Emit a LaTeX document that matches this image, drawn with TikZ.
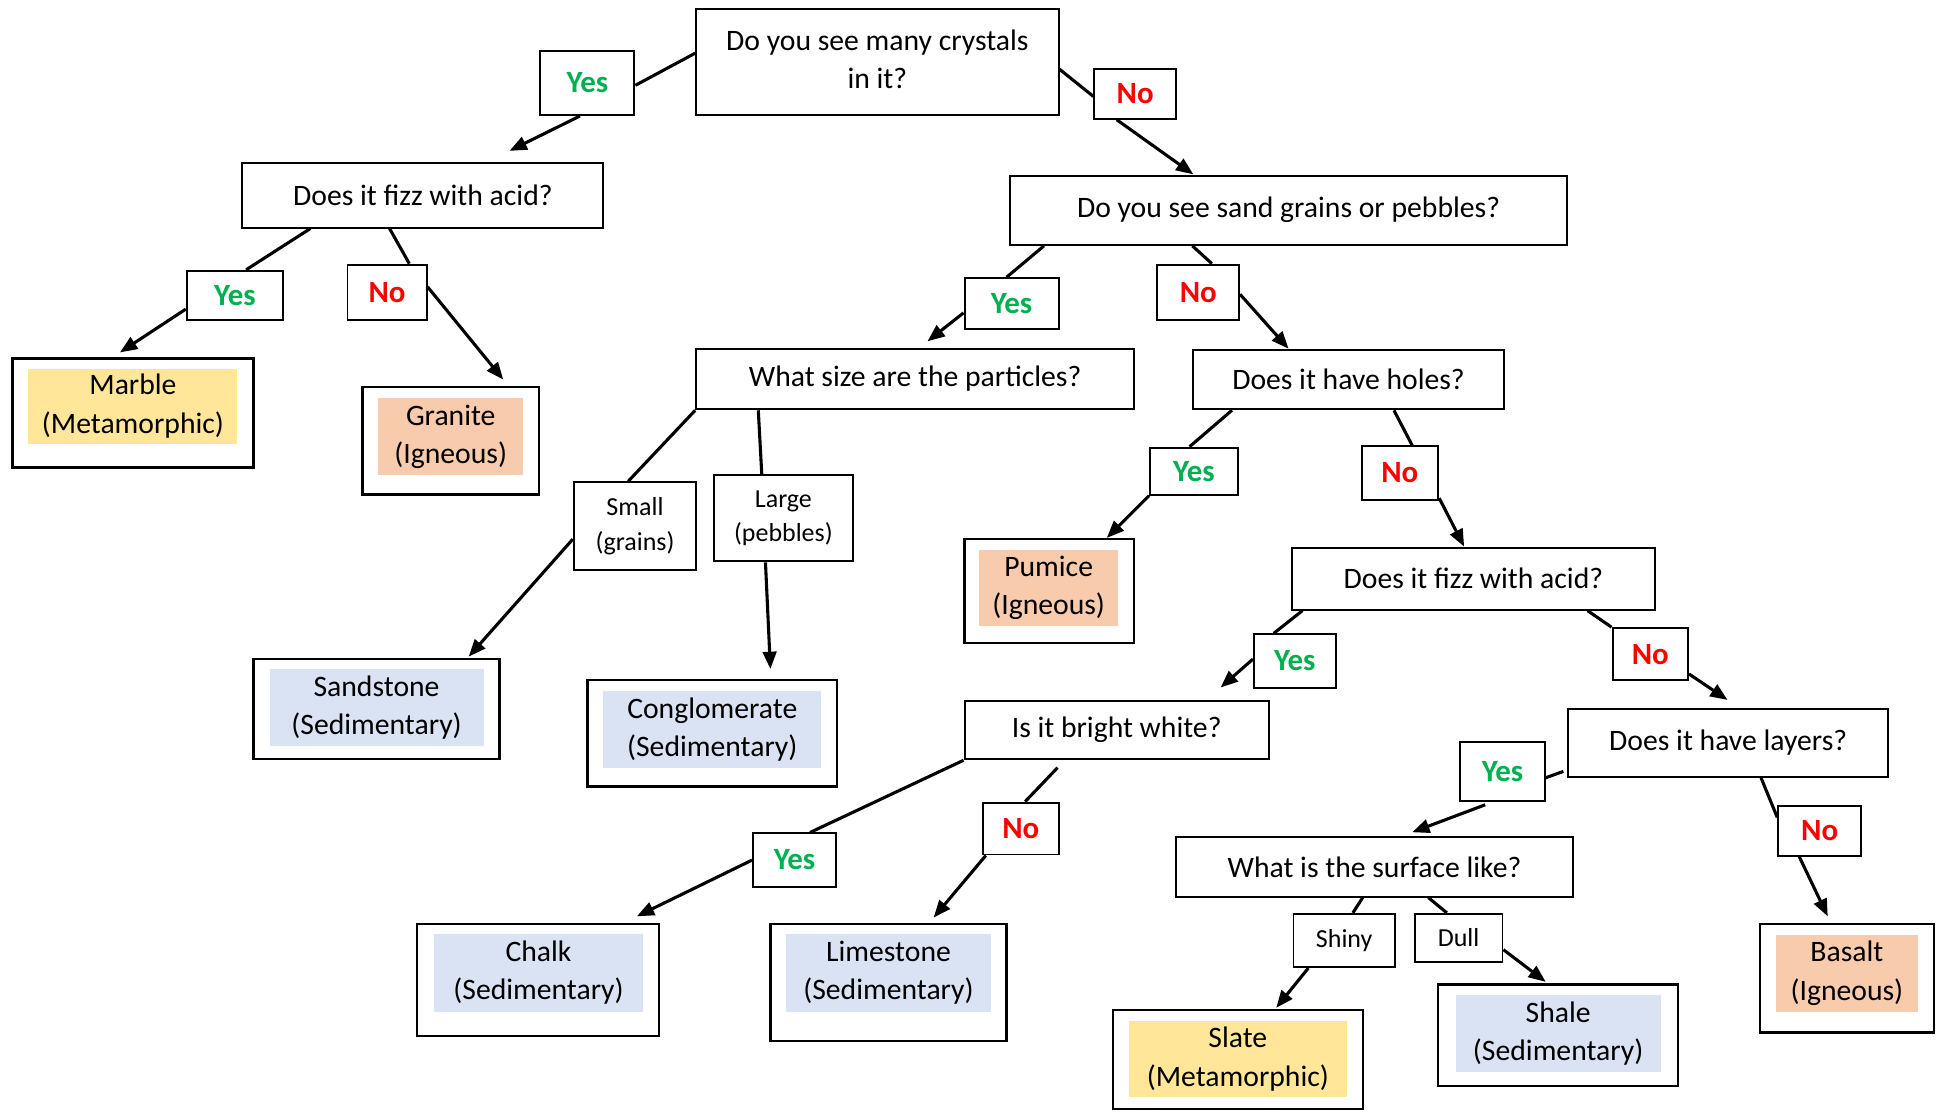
\documentclass[tikz,border=0pt]{standalone}
\usepackage{fontspec}
\setmainfont{Carlito}
\usetikzlibrary{calc,arrows.meta}
\definecolor{yesc}{HTML}{00B050}
\definecolor{noc}{HTML}{FF0000}
\definecolor{metac}{HTML}{FFE699}
\definecolor{ignc}{HTML}{F8CBAD}
\definecolor{sedc}{HTML}{DAE3F3}
\tikzset{
  sz/.style 2 args={minimum width=#1*0.5pt,minimum height=#2*0.5pt},
  qbox/.style={draw,line width=0.8pt,fill=white,inner sep=0pt,align=center,font=\fontsize{12}{15.5}\selectfont},
  lbox/.style={draw,line width=0.8pt,fill=white,inner sep=0pt,align=center,font=\fontsize{12.5}{15.5}\selectfont\bfseries},
  ybox/.style={lbox,text=yesc},
  nbox/.style={lbox,text=noc},
  sbox/.style={draw,line width=0.8pt,fill=white,inner sep=0pt,align=center,font=\fontsize{10.5}{14}\selectfont},
  obox/.style={draw,line width=0.95pt,fill=white,inner sep=0pt},
  ibox/.style={inner sep=0pt,align=center,font=\fontsize{12}{15.5}\selectfont},
  conn/.style={line width=1.25pt},
  arr/.style={line width=1.25pt,-{Triangle[length=7pt,width=5.5pt]}}
}
\begin{document}
\begin{tikzpicture}[x=0.5pt,y=-0.5pt]
\useasboundingbox (0,0) rectangle (1568,899);
% question boxes
\node[qbox,sz={293}{86}] (q1) at (709.5,50) {\raisebox{2pt}{\begin{tabular}{@{}c@{}}Do you see many crystals\\in it?\end{tabular}}};
\node[qbox,sz={292}{52}] (q2) at (342,158) {Does it fizz with acid?};
\node[qbox,sz={450}{56}] (q3) at (1042,170) {Do you see sand grains or pebbles?};
\node[qbox,sz={354}{49}] (q4) at (740,306.5) {What size are the particles?};
\node[qbox,sz={251}{48}] (q5) at (1090.5,307) {Does it have holes?};
\node[qbox,sz={293}{50}] (q6) at (1191.5,468) {Does it fizz with acid?};
\node[qbox,sz={246}{47}] (q7) at (903,590.5) {Is it bright white?};
\node[qbox,sz={259}{55}] (q8) at (1397.5,600.5) {Does it have layers?};
\node[qbox,sz={321}{48}] (q9) at (1111.5,701) {What is the surface like?};
% yes/no labels
\node[ybox,sz={76}{52}] (yes1) at (475,67) {Yes};
\node[nbox,sz={66}{40}] (no1) at (918,76) {No};
\node[ybox,sz={78}{40}] (yes2) at (190,239) {Yes};
\node[nbox,sz={64}{45}] (no2) at (313,236.5) {No};
\node[ybox,sz={76}{41}] (yes3) at (818,245.5) {Yes};
\node[nbox,sz={66}{45}] (no3) at (969,236.5) {No};
\node[ybox,sz={71}{38}] (yes5) at (965.5,381) {Yes};
\node[nbox,sz={62}{43}] (no5) at (1132,382.5) {No};
\node[ybox,sz={66}{43}] (yes6) at (1047,534.5) {Yes};
\node[nbox,sz={61}{42}] (no6) at (1334.5,529) {No};
\node[ybox,sz={67}{43}] (yes7) at (642.5,695.5) {Yes};
\node[nbox,sz={61}{42}] (no7) at (825.5,670) {No};
\node[ybox,sz={68}{48}] (yes8) at (1215,624) {Yes};
\node[nbox,sz={67}{40}] (no8) at (1471.5,672) {No};
\node[sbox,sz={99}{71}] (small) at (513.5,425.5) {Small\\(grains)};
\node[sbox,sz={113}{70}] (large) at (633.5,419) {Large\\(pebbles)};
\node[sbox,sz={82}{43}] (shiny) at (1087,760.5) {Shiny};
\node[sbox,sz={71}{39}] (dull) at (1179.5,758.5) {Dull};
% results
\node[obox,sz={195}{88}] (marble) at (107.5,334) {};
\node[ibox,fill=metac,sz={169}{61}] (marbleT) at (107.5,328.5) {Marble\\(Metamorphic)};
\node[obox,sz={143}{87}] (granite) at (364.5,356.5) {};
\node[ibox,fill=ignc,sz={117}{62}] (graniteT) at (364.5,353) {Granite\\(Igneous)};
\node[obox,sz={199}{81}] (sandstone) at (304.5,573.5) {};
\node[ibox,fill=sedc,sz={173}{62}] (sandstoneT) at (304.5,572) {Sandstone\\(Sedimentary)};
\node[obox,sz={202}{86}] (congl) at (576,593) {};
\node[ibox,fill=sedc,sz={176}{62}] (conglT) at (576,590) {Conglomerate\\(Sedimentary)};
\node[obox,sz={137}{84}] (pumice) at (848.5,478) {};
\node[ibox,fill=ignc,sz={112}{61}] (pumiceT) at (848,475.5) {Pumice\\(Igneous)};
\node[obox,sz={196}{91}] (chalk) at (435,792.5) {};
\node[ibox,fill=sedc,sz={169}{63}] (chalkT) at (435.5,786.5) {Chalk\\(Sedimentary)};
\node[obox,sz={191}{95}] (limestone) at (718.5,794.5) {};
\node[ibox,fill=sedc,sz={165}{63}] (limestoneT) at (718.5,786.5) {Limestone\\(Sedimentary)};
\node[obox,sz={202}{80}] (slate) at (1001,857) {};
\node[ibox,fill=metac,sz={176}{61}] (slateT) at (1001,856.5) {Slate\\(Metamorphic)};
\node[obox,sz={194}{82}] (shale) at (1260,837) {};
\node[ibox,fill=sedc,sz={166}{62}] (shaleT) at (1260,836) {Shale\\(Sedimentary)};
\node[obox,sz={141}{88}] (basalt) at (1493.5,791) {};
\node[ibox,fill=ignc,sz={115}{62}] (basaltT) at (1493.5,787) {Basalt\\(Igneous)};
% arrow tips
\coordinate (t1) at (412,122);
\coordinate (t2) at (965,141);
\coordinate (t3) at (97,285);
\coordinate (t4) at (407,307);
\coordinate (t5) at (750,276);
\coordinate (t6) at (1042,282);
\coordinate (t7) at (379,531);
\coordinate (t8) at (623,541);
\coordinate (t9) at (895,435);
\coordinate (t10) at (1184,442);
\coordinate (t11) at (987,556);
\coordinate (t12) at (1397,566);
\coordinate (t13) at (515,741);
\coordinate (t14) at (755,742);
\coordinate (t15) at (1142,673);
\coordinate (t16) at (1478,741);
\coordinate (t17) at (1032,815);
\coordinate (t18) at (1250,794);
% connectors
\draw[conn] ($(q1.west)+(0,-7)$) -- ($(yes1.east)+(0,2)$);
\draw[arr] ($(yes1.south)+(-6,0)$) -- (t1);
\draw[conn] ($(q1.east)+(0,6)$) -- ($(no1.west)+(0,2)$);
\draw[arr] ($(no1.south)+(-15,0)$) -- (t2);
\draw[conn] ($(q2.south)+(-91,0)$) -- ($(yes2.north)+(9,0)$);
\draw[arr] ($(yes2.west)+(0,11)$) -- (t3);
\draw[conn] ($(q2.south)+(-27,0)$) -- ($(no2.north)+(18,0)$);
\draw[arr] ($(no2.east)+(0,-4.5)$) -- (t4);
\draw[conn] ($(q3.south west)+(28,0)$) -- ($(yes3.north)+(-4,0)$);
\draw[arr] ($(yes3.west)+(0,7.5)$) -- (t5);
\draw[conn] ($(q3.south west)+(148,0)$) -- ($(no3.north)+(11,0)$);
\draw[arr] ($(no3.east)+(0,1.5)$) -- (t6);
\draw[conn] (q4.south west) -- ($(small.north)+(-5.5,0)$);
\draw[arr] ($(small.west)+(0,10.5)$) -- (t7);
\draw[conn] ($(q4.south west)+(51,0)$) -- ($(large.north)+(-17.5,0)$);
\draw[arr] ($(large.south)+(-14.5,0)$) -- (t8);
\draw[conn] ($(q5.south west)+(32,0)$) -- ($(yes5.north)+(-3.5,0)$);
\draw[arr] (yes5.south west) -- (t9);
\draw[conn] ($(q5.south west)+(163,0)$) -- ($(no5.north)+(10,0)$);
\draw[arr] ($(no5.south east)+(0,-2)$) -- (t10);
\draw[conn] ($(q6.south west)+(9,0)$) -- ($(yes6.north)+(-17,0)$);
\draw[arr] ($(yes6.west)+(0,-1.5)$) -- (t11);
\draw[conn] ($(q6.south east)+(-55,0)$) -- (no6.north west);
\draw[arr] ($(no6.east)+(0,16)$) -- (t12);
\draw[conn] (q7.south west) -- ($(yes7.north)+(12.5,0)$);
\draw[arr] (yes7.west) -- (t13);
\draw[conn] ($(q7.south west)+(76,6)$) -- ($(no7.north)+(3.5,0)$);
\draw[arr] ($(no7.south west)+(3,0)$) -- (t14);
\draw[conn] ($(q8.south west)+(-3,-5)$) -- ($(yes8.east)+(0,5)$);
\draw[arr] ($(yes8.south)+(-14,2)$) -- (t15);
\draw[conn] ($(q8.south)+(26.5,0)$) -- ($(no8.west)+(0,-11)$);
\draw[arr] ($(no8.south)+(-16.5,0)$) -- (t16);
\draw[conn] ($(q9.south)+(-9.5,0)$) -- ($(shiny.north)+(7,0)$);
\draw[arr] ($(shiny.south)+(-29,0)$) -- (t17);
\draw[conn] ($(q9.south)+(43.5,0)$) -- ($(dull.north)+(-9.5,0)$);
\draw[arr] ($(dull.east)+(0,9.5)$) -- (t18);
\end{tikzpicture}
\end{document}
